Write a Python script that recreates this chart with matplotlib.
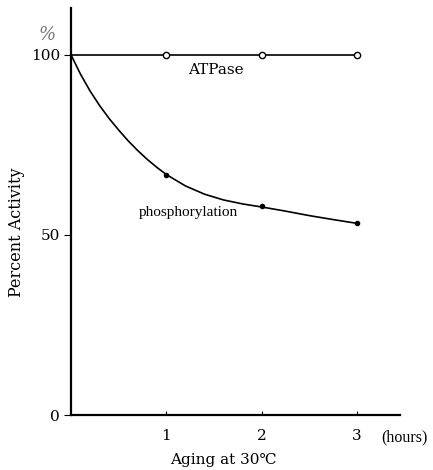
import matplotlib.pyplot as plt

plt.rcParams['font.family'] = ['DejaVu Serif']

# aging time (hours) and activities
hours = [1, 2, 3]
atpase = [100, 100, 100]
phos = [66.7, 58.1, 53.3]

# smooth drawn curve for phosphorylation
curve_x = [0, 0.1, 0.2, 0.3, 0.4, 0.5, 0.6, 0.7, 0.8, 0.9, 1.0,
           1.2, 1.4, 1.6, 1.8, 2.0, 2.25, 2.5, 2.75, 3.0]
curve_y = [100, 94.6, 89.95, 85.9, 82.3, 79.1, 76.1, 73.4, 70.95, 68.75, 66.75,
           63.6, 61.3, 59.7, 58.6, 57.75, 56.6, 55.35, 54.25, 53.2]

fig = plt.figure(figsize=(4.33, 4.70), dpi=100)
ax = fig.add_axes([0.164, 0.117, 0.76, 0.866])

ax.plot([0] + hours, [100] + atpase, color='black', lw=1.2, zorder=2)
ax.plot(hours, atpase, 'o', mfc='white', mec='black', ms=4.5, mew=1, zorder=3)
ax.plot(curve_x, curve_y, color='black', lw=1.2, solid_joinstyle='round')
ax.plot(hours, phos, 'o', color='black', ms=3)

ax.set_xlim(0, 3.45)
ax.set_ylim(0, 113)
ax.spines['top'].set_visible(False)
ax.spines['right'].set_visible(False)
ax.spines['left'].set_linewidth(1.6)
ax.spines['bottom'].set_linewidth(1.6)

ax.set_yticks([0, 50, 100])
ax.set_xticks(hours)
ax.tick_params(axis='y', direction='out', length=5, labelsize=11, pad=3)
ax.tick_params(axis='x', direction='in', length=3, labelsize=11, pad=10)

ax.text(3.25, -6.1, '(hours)', fontsize=11.5, ha='left', va='center',
        family='Liberation Serif')
ax.text(-0.25, 105.5, '%', fontsize=13, color='#777777', ha='center', va='center',
        style='italic')
ax.text(1.52, 95.8, 'ATPase', fontsize=11, ha='center', va='center')
ax.text(1.23, 56.1, 'phosphorylation', fontsize=11, ha='center', va='center',
        family='Liberation Serif')

fig.text(17 / 433, 1 - 232 / 470, 'Percent Activity', fontsize=11.5,
         rotation=90, ha='center', va='center')
fig.text(223 / 433, 1 - 460 / 470, 'Aging at 30\u2103', fontsize=11,
         ha='center', va='center')

fig.savefig('out.png', dpi=100)
